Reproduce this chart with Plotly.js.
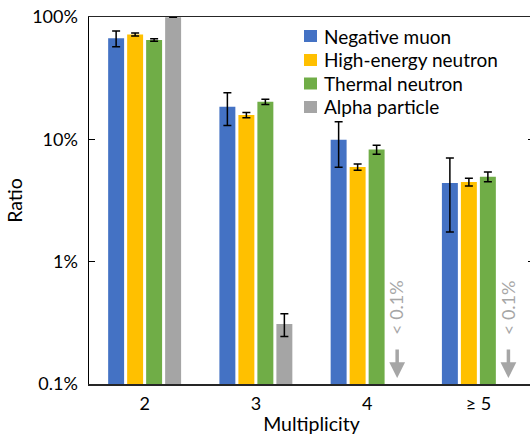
<!DOCTYPE html>
<html>
<head>
<meta charset="utf-8">
<script src="https://cdn.plot.ly/plotly-3.0.1.min.js"></script>
<style>
  html, body { margin: 0; padding: 0; overflow: hidden; background: #fff; }
  #chart { width: 536px; height: 436px; }
</style>
</head>
<body>
<div id="chart"></div>
<script>
// Categories (multiplicity)
const categories = ["2", "3", "4", "≥ 5"];

// Ratio values in percent, with symmetric error bars (percent)
const negativeMuon      = [67, 18.5, 9.9, 4.4];
const negativeMuonErr   = [10, 5.5, 4.0, 2.65];
const highEnergyNeutron = [72, 15.8, 5.95, 4.48];
const highEnergyErr     = [2.0, 0.8, 0.35, 0.33];
const thermalNeutron    = [65, 20.3, 8.25, 4.95];
const thermalErr        = [1.5, 1.0, 0.7, 0.45];
const alphaParticle     = [99.7, 0.31, null, null];
const alphaErr          = [0.3, 0.065, null, null];

// Y axis ticks
const yTickVals = [0.1, 1, 10, 100];
const yTickText = ["0.1%", "1%", "10%", "100%"];

// Series names and colours
const seriesNames  = ["Negative muon", "High-energy neutron", "Thermal neutron", "Alpha particle"];
const seriesColors = ["#4472C4", "#FFC000", "#70AD47", "#A5A5A5"];
const seriesValues = [negativeMuon, highEnergyNeutron, thermalNeutron, alphaParticle];
const seriesErrors = [negativeMuonErr, highEnergyErr, thermalErr, alphaErr];

// Category slots where alpha particle is below 0.1%
const belowLimitCats = [2.27, 3.27];
const belowLimitText = "< 0.1%";

const FONT = "Lato, 'Open Sans', sans-serif";

// plot-area geometry (pixels) for placing the legend
const W = 536, H = 436, ML = 89, MR = 2, MT = 17, MB = 52;
const PW = W - ML - MR, PH = H - MT - MB;
const px = p => (p - ML) / PW;
const py = p => (H - MB - p) / PH;

const traces = seriesNames.map((name, i) => ({
  type: "bar",
  name: name,
  x: categories,
  y: seriesValues[i],
  marker: { color: seriesColors[i] },
  showlegend: false,
  error_y: {
    type: "data",
    array: seriesErrors[i],
    visible: true,
    color: "#000000",
    thickness: 1.5,
    width: 4
  }
}));

const annotations = [];
belowLimitCats.forEach(cx => {
  // rotated label
  annotations.push({
    x: cx, y: Math.log10(0.42), xref: "x", yref: "y",
    text: belowLimitText, textangle: -90, showarrow: false,
    xanchor: "center", yanchor: "middle", xshift: -1,
    font: { family: FONT, size: 18, color: "#A6A6A6" }
  });
  // down arrow
  annotations.push({
    x: cx, y: Math.log10(0.112), xref: "x", yref: "y",
    text: "", showarrow: true,
    arrowhead: 2, arrowsize: 0.9, arrowwidth: 3.5, arrowcolor: "#A6A6A6",
    ax: 0, ay: -30, axref: "pixel", ayref: "pixel"
  });
});

// custom legend
const legendRows = [36, 60, 83.5, 107];
const shapes = [];
seriesNames.forEach((name, i) => {
  const cy = legendRows[i];
  shapes.push({
    type: "rect", xref: "paper", yref: "paper",
    x0: px(304), x1: px(317), y0: py(cy + 6), y1: py(cy - 6),
    fillcolor: seriesColors[i], line: { width: 0 }
  });
  annotations.push({
    xref: "paper", yref: "paper", x: px(322), y: py(cy),
    xanchor: "left", yanchor: "middle", showarrow: false,
    text: name, font: { family: FONT, size: 19, color: "#000000" }
  });
});

const layout = {
  width: W,
  height: H,
  margin: { l: ML, r: MR, t: MT, b: MB },
  paper_bgcolor: "#ffffff",
  plot_bgcolor: "#ffffff",
  font: { family: FONT, size: 18, color: "#000000" },
  barmode: "group",
  bargap: 0.317,
  bargroupgap: 0.16,
  showlegend: false,
  xaxis: {
    type: "category",
    showline: true,
    linecolor: "#262626",
    linewidth: 1.5,
    mirror: true,
    ticks: "",
    showgrid: false,
    zeroline: false,
    ticklabelstandoff: 3,
    tickfont: { family: FONT, size: 18, color: "#000000" },
    title: { text: "Multiplicity", font: { family: FONT, size: 19.5, color: "#000000" }, standoff: 4 }
  },
  yaxis: {
    type: "log",
    range: [-1, 2],
    tickvals: yTickVals,
    ticktext: yTickText,
    showline: true,
    linecolor: "#000000",
    linewidth: 1.5,
    mirror: "ticks",
    ticks: "inside",
    ticklen: 6,
    tickwidth: 1.5,
    tickcolor: "#000000",
    showgrid: false,
    zeroline: false,
    ticklabelstandoff: 6,
    tickfont: { family: FONT, size: 18, color: "#000000" },
    title: { text: "Ratio", font: { family: FONT, size: 19.5, color: "#000000" }, standoff: 4 }
  },
  shapes: shapes,
  annotations: annotations
};

Plotly.newPlot("chart", traces, layout, { displayModeBar: false, staticPlot: true });
</script>
</body>
</html>
